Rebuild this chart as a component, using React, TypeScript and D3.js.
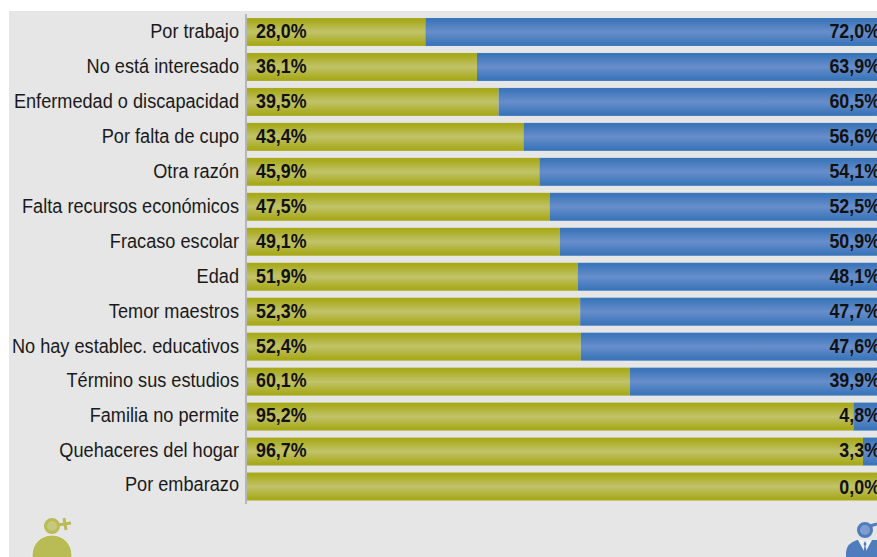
import React, { useEffect, useRef } from 'react';
import * as d3 from 'd3';

const categories = [
  'Por trabajo', 'No está interesado', 'Enfermedad o discapacidad', 'Por falta de cupo',
  'Otra razón', 'Falta recursos económicos', 'Fracaso escolar', 'Edad', 'Temor maestros',
  'No hay establec. educativos', 'Término sus estudios', 'Familia no permite',
  'Quehaceres del hogar', 'Por embarazo',
];
const mujeres = [28.0, 36.1, 39.5, 43.4, 45.9, 47.5, 49.1, 51.9, 52.3, 52.4, 60.1, 95.2, 96.7, 100];
const hombres = [72.0, 63.9, 60.5, 56.6, 54.1, 52.5, 50.9, 48.1, 47.7, 47.6, 39.9, 4.8, 3.3, 0.0];
// the last row shows no label on the olive side
const mujeresLabels = ['28,0%', '36,1%', '39,5%', '43,4%', '45,9%', '47,5%', '49,1%', '51,9%', '52,3%', '52,4%', '60,1%', '95,2%', '96,7%', ''];
const hombresLabels = ['72,0%', '63,9%', '60,5%', '56,6%', '54,1%', '52,5%', '50,9%', '48,1%', '47,7%', '47,6%', '39,9%', '4,8%', '3,3%', '0,0%'];

const FONT = '"Liberation Sans", Arial, sans-serif';

const App = () => {
  const ref = useRef<SVGSVGElement>(null);

  useEffect(() => {
    const svg = d3.select(ref.current);
    svg.selectAll('*').remove();

    const x = d3.scaleLinear().domain([0, 100]).range([247, 884]);
    const y = d3.scaleBand().domain(categories).range([14.5, 504]).paddingInner(0.2).paddingOuter(0.1);

    const defs = svg.append('defs');
    const gradient = (id: string, edge: string, mid: string) => {
      const g = defs.append('linearGradient').attr('id', id).attr('x1', 0).attr('x2', 0).attr('y1', 0).attr('y2', 1);
      g.append('stop').attr('offset', '0%').attr('stop-color', edge);
      g.append('stop').attr('offset', '8%').attr('stop-color', edge);
      g.append('stop').attr('offset', '50%').attr('stop-color', mid);
      g.append('stop').attr('offset', '92%').attr('stop-color', edge);
      g.append('stop').attr('offset', '100%').attr('stop-color', edge);
    };
    gradient('olive', '#a8aa1c', '#c1c36a');
    gradient('blue', '#3c76ba', '#688ecb');

    // page background
    svg.append('rect').attr('x', 0).attr('y', 0).attr('width', 877).attr('height', 557).attr('fill', '#ffffff');
    svg.append('rect').attr('x', 9).attr('y', 11).attr('width', 868).attr('height', 546).attr('fill', '#e6e6e6');

    const rows = svg.selectAll('g.row').data(categories).join('g').attr('class', 'row');
    const mid = (d: string) => y(d)! + y.bandwidth() / 2;

    rows.append('rect')
      .attr('x', x(0))
      .attr('y', d => y(d)!)
      .attr('width', (d, i) => x(mujeres[i]) - x(0))
      .attr('height', y.bandwidth())
      .attr('fill', 'url(#olive)');

    rows.append('rect')
      .attr('x', (d, i) => x(mujeres[i]))
      .attr('y', d => y(d)!)
      .attr('width', (d, i) => x(mujeres[i] + hombres[i]) - x(mujeres[i]))
      .attr('height', y.bandwidth())
      .attr('fill', 'url(#blue)');

    // no narrow font installed, so the text is squeezed horizontally
    rows.append('text')
      .attr('transform', (d, i) => `translate(239,${mid(d) - (i === 13 ? 3 : 1.5)}) scale(0.865,1)`)
      .attr('dy', '0.35em')
      .attr('text-anchor', 'end')
      .attr('font-family', FONT)
      .attr('font-size', 21)
      .attr('fill', '#1a1a1a')
      .text(d => d);

    rows.append('text')
      .attr('transform', d => `translate(256,${mid(d) - 1.5}) scale(0.85,1)`)
      .attr('dy', '0.35em')
      .attr('font-family', FONT)
      .attr('font-size', 21)
      .attr('font-weight', 'bold')
      .attr('fill', '#111')
      .text((d, i) => mujeresLabels[i]);

    rows.append('text')
      .attr('transform', (d, i) => `translate(880,${mid(d) - (i === 13 ? 0 : 1.5)}) scale(0.85,1)`)
      .attr('dy', '0.35em')
      .attr('text-anchor', 'end')
      .attr('font-family', FONT)
      .attr('font-size', 21)
      .attr('font-weight', 'bold')
      .attr('fill', '#111')
      .text((d, i) => hombresLabels[i]);

    // vertical axis line
    svg.append('line')
      .attr('x1', 246).attr('x2', 246).attr('y1', 14).attr('y2', 504)
      .attr('stroke', '#a6a6a6').attr('stroke-width', 1.5);

    // woman icon
    const woman = svg.append('g').attr('fill', '#b9bb55');
    woman.append('path').attr('d', 'M58 525 L71 523 M64 518 L66 530').attr('stroke', '#b9bb55').attr('stroke-width', 3).attr('fill', 'none');
    woman.append('circle').attr('cx', 52).attr('cy', 526).attr('r', 6.5).attr('fill', '#c6c87c').attr('stroke', '#b9bb55').attr('stroke-width', 3);
    woman.append('circle').attr('cx', 52).attr('cy', 555).attr('r', 20).attr('stroke', '#efefef').attr('stroke-width', 1);

    // man icon
    const man = svg.append('g').attr('fill', '#4f7cbc');
    man.append('path').attr('d', 'M870 526 L877 524').attr('stroke', '#4f7cbc').attr('stroke-width', 3).attr('fill', 'none');
    man.append('circle').attr('cx', 865).attr('cy', 530).attr('r', 6.5).attr('fill', '#7f9dd0').attr('stroke', '#4f7cbc').attr('stroke-width', 3);
    man.append('path').attr('d', 'M846 557 V552 Q847 543 857 540 L877 540 V557 Z');
    man.append('path').attr('d', 'M858 540 L865 553 L872 540 Z').attr('fill', '#eef1f6');
    man.append('path').attr('d', 'M865 541 L863.5 544 L864.5 546 L863 554 L865 556 L867 554 L865.5 546 L866.5 544 Z').attr('fill', '#4f7cbc');
  }, []);

  return <svg ref={ref} width={877} height={557} style={{ position: 'fixed', left: 0, top: 0, display: 'block' }} />;
};

export default App;
